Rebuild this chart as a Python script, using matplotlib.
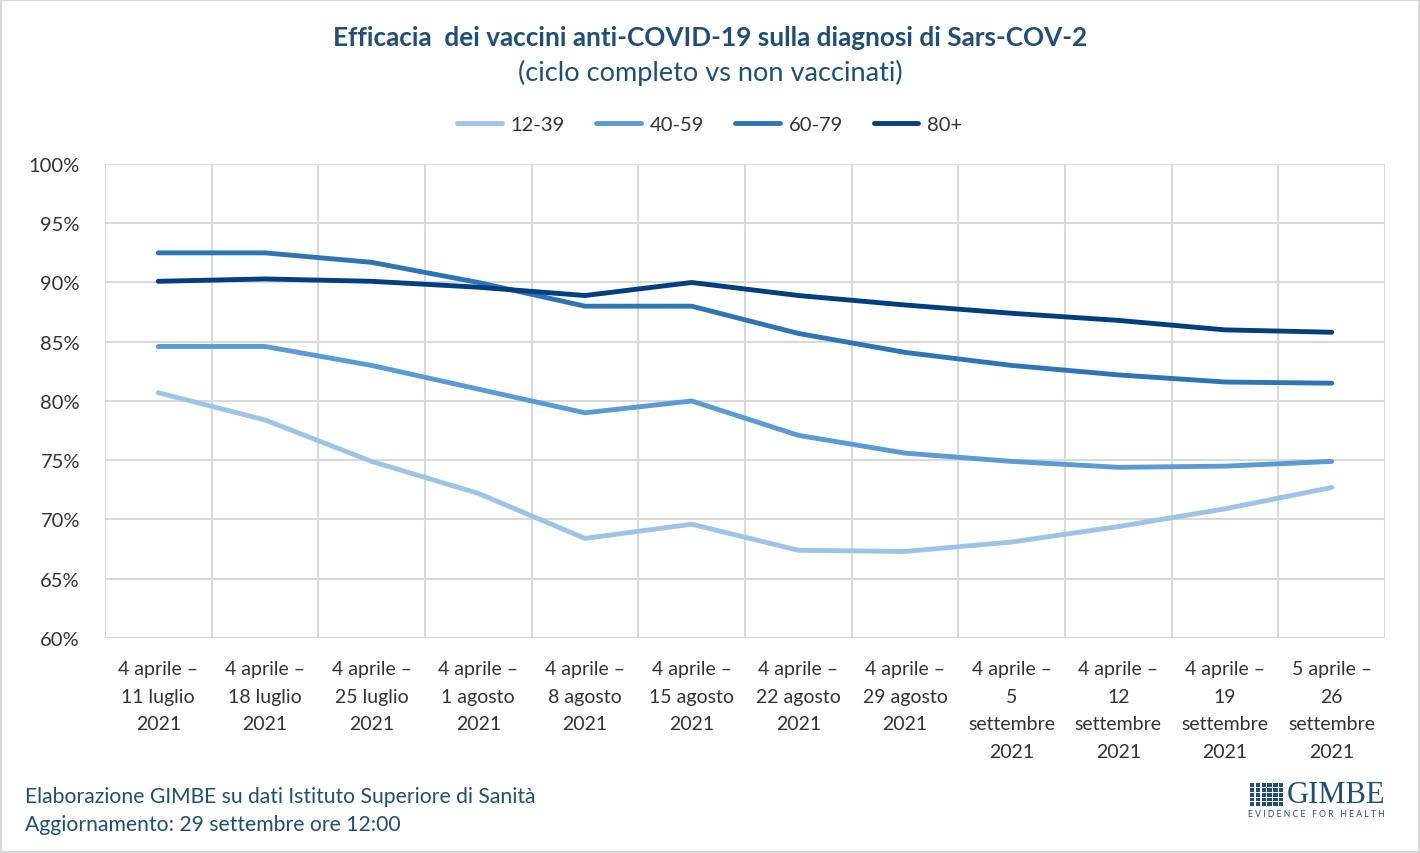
import matplotlib.pyplot as plt
from matplotlib.patches import Rectangle
import numpy as np

# Dati: efficacia vaccini (ciclo completo vs non vaccinati), %
periodi = ['4 aprile –\n11 luglio\n2021', '4 aprile –\n18 luglio\n2021', '4 aprile –\n25 luglio\n2021',
           '4 aprile –\n1 agosto\n2021', '4 aprile –\n8 agosto\n2021', '4 aprile –\n15 agosto\n2021',
           '4 aprile –\n22 agosto\n2021', '4 aprile –\n29 agosto\n2021', '4 aprile –\n5\nsettembre\n2021',
           '4 aprile –\n12\nsettembre\n2021', '4 aprile –\n19\nsettembre\n2021', '5 aprile –\n26\nsettembre\n2021']

eta_12_39 = [80.7, 78.4, 74.9, 72.2, 68.4, 69.6, 67.4, 67.3, 68.1, 69.4, 70.9, 72.7]
eta_40_59 = [84.6, 84.6, 83.0, 81.0, 79.0, 80.0, 77.1, 75.6, 74.9, 74.4, 74.5, 74.9]
eta_60_79 = [92.5, 92.5, 91.7, 90.0, 88.0, 88.0, 85.7, 84.1, 83.0, 82.2, 81.6, 81.5]
eta_80 = [90.1, 90.3, 90.1, 89.6, 88.9, 90.0, 88.9, 88.1, 87.4, 86.8, 86.0, 85.8]

serie = [('12-39', eta_12_39, '#9DC3E6'),
         ('40-59', eta_40_59, '#5B9BD5'),
         ('60-79', eta_60_79, '#2E75B6'),
         ('80+', eta_80, '#003F7F')]

plt.rcParams['font.family'] = ['Lato', 'DejaVu Sans']
BLU = '#1F4E79'

fig = plt.figure(figsize=(14.2, 8.54), dpi=100)
ax = fig.add_axes([0.0739, 0.2518, 0.9015, 0.555])

x = np.arange(len(periodi))
for nome, valori, colore in serie:
    ax.plot(x, valori, color=colore, linewidth=3.5, label=nome, solid_capstyle='round')

ax.set_xlim(-0.5, len(periodi) - 0.5)
ax.set_ylim(60, 100)
ax.set_yticks(np.arange(60, 101, 5))
ax.set_yticklabels([f'{v}%' for v in range(60, 101, 5)], fontsize=14.5, color='#333333')
ax.set_xticks(np.arange(-0.5, len(periodi), 1), minor=True)
ax.set_xticks(x)
ax.set_xticklabels(periodi, fontsize=14, color='#333333', linespacing=1.75)
ax.tick_params(axis='both', which='both', length=0)
ax.tick_params(axis='x', pad=16)
ax.tick_params(axis='y', pad=18)
ax.grid(True, axis='y', color='#D9D9D9', linewidth=1.5)
ax.grid(True, axis='x', which='minor', color='#D9D9D9', linewidth=1.5)
ax.grid(False, axis='x', which='major')
for s in ax.spines.values():
    s.set_visible(False)
ax.set_axisbelow(True)

# Titoli
fig.text(0.5, 0.956, 'Efficacia  dei vaccini anti-COVID-19 sulla diagnosi di Sars-COV-2',
         ha='center', va='center', fontsize=18.8, fontweight='bold', color=BLU)
fig.text(0.5, 0.915, '(ciclo completo vs non vaccinati)', ha='center', va='center',
         fontsize=19.5, color=BLU)

ax.legend(loc='center', bbox_to_anchor=(0.5, 0.853), bbox_transform=fig.transFigure,
          ncol=4, frameon=False, fontsize=14.5, handlelength=2.2, columnspacing=1.55,
          handletextpad=0.45, labelcolor='#333333')

# Note
fig.text(0.0176, 0.067, 'Elaborazione GIMBE su dati Istituto Superiore di Sanità', ha='left',
         va='center', fontsize=15.2, color=BLU)
fig.text(0.0176, 0.034, 'Aggiornamento: 29 settembre ore 12:00', ha='left', va='center',
         fontsize=15.2, color=BLU)

# Logo GIMBE (semplificato)
for i in range(6):
    for j in range(5):
        fig.patches.append(Rectangle((1250 + i * 5.8, 854 - 784 - j * 4.8 - 4), 4.4, 3.8,
                                     transform=None, facecolor=BLU, edgecolor='none',
                                     figure=fig))
fig.text(1287 / 1420, 1 - 796 / 854, 'GIMBE', ha='left', va='center', fontsize=22,
         family='Liberation Serif', color=BLU)
fig.text(1316 / 1420, 1 - 815 / 854, 'E V I D E N C E   F O R   H E A L T H', ha='center',
         va='center', fontsize=6.2, color=BLU)

# Bordo
fig.patches.append(Rectangle((0.001, 0.001), 0.998, 0.998, transform=fig.transFigure,
                             fill=False, edgecolor='#D9D9D9', linewidth=1.5, figure=fig))

fig.savefig('out.png', dpi=100)
